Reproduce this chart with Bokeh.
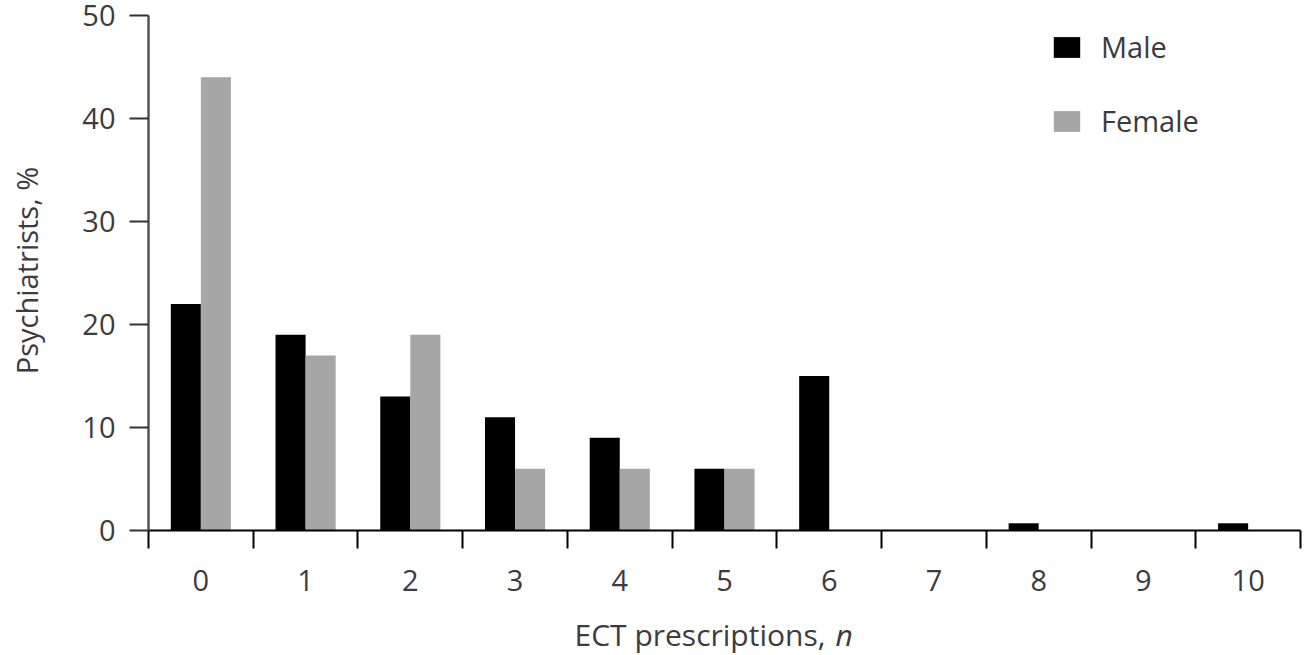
import math
from bokeh.plotting import figure
from bokeh.models import Range1d, FixedTicker, Legend, LegendItem, Label, ColumnDataSource
from bokeh.transform import dodge
from bokeh.embed import file_html
from bokeh.resources import INLINE

categories = list(range(11))
male = [22, 19, 13, 11, 9, 6, 15, 0, 0.7, 0, 0.7]
female = [44, 17, 19, 6, 6, 6, 0, 0, 0, 0, 0]
tick_labels = [str(c) for c in categories]
y_ticks = [0, 10, 20, 30, 40, 50]

FONT = "Open Sans"
TXT = "#3c3c3c"
FS = "29px"

# layout (canvas pixels)
W, H = 1312, 655
AX_L, AX_R = 148, 1300      # x-axis pixel extent for -0.5 .. 10.5
AX_T, AX_B = 15, 530        # y-axis pixel extent for 50 .. 0
x_lo, x_hi = -0.5, 10.5
y_lo, y_hi = 0, 50
ppx = (AX_R - AX_L) / (x_hi - x_lo)
ppy = (AX_B - AX_T) / (y_hi - y_lo)
xr = Range1d(x_lo - AX_L / ppx, x_hi + (W - AX_R) / ppx)
yr = Range1d(y_lo - (H - AX_B) / ppy, y_hi + AX_T / ppy)

p = figure(width=W, height=H, x_range=xr, y_range=yr,
           output_backend="svg", toolbar_location=None,
           min_border=0, min_border_left=0, min_border_right=0,
           min_border_top=0, min_border_bottom=0)
p.grid.visible = False
p.outline_line_color = None
p.background_fill_color = "white"

source = ColumnDataSource(dict(x=categories, male=male, female=female))
r1 = p.vbar(x=dodge("x", -0.1435, range=p.x_range), top="male", width=0.287,
            source=source, fill_color="black", line_color=None)
r2 = p.vbar(x=dodge("x", 0.1435, range=p.x_range), top="female", width=0.287,
            source=source, fill_color="#a6a6a6", line_color=None)

# x axis
xa = p.xaxis[0]
xa.fixed_location = 0
xa.bounds = (x_lo, x_hi)
xa.ticker = FixedTicker(ticks=categories, minor_ticks=[c - 0.5 for c in categories + [11]])
xa.major_label_overrides = {c: l for c, l in zip(categories, tick_labels)}
xa.major_tick_out = 0
xa.major_tick_in = 0
xa.minor_tick_out = 18
xa.minor_tick_in = 0
xa.minor_tick_line_color = "black"
xa.minor_tick_line_width = 2
xa.axis_line_color = "black"
xa.axis_line_width = 2
xa.major_label_text_font = FONT
xa.major_label_text_font_size = FS
xa.major_label_text_color = TXT
xa.major_label_standoff = 21

# y axis
ya = p.yaxis[0]
ya.fixed_location = x_lo
ya.bounds = (y_lo, y_hi)
ya.ticker = FixedTicker(ticks=y_ticks, minor_ticks=[])
ya.major_tick_out = 19
ya.major_tick_in = 0
ya.major_tick_line_color = "#333333"
ya.major_tick_line_width = 2
ya.axis_line_color = "#555555"
ya.axis_line_width = 2.5
ya.major_label_text_font = FONT
ya.major_label_text_font_size = FS
ya.major_label_text_color = TXT
ya.major_label_standoff = 14

# axis titles
ylab = Label(x=26, y=270, x_units="canvas", y_units="canvas",
             text="Psychiatrists, %", angle=math.pi / 2,
             text_align="center", text_baseline="middle",
             text_font=FONT, text_font_size="29px", text_color=TXT)
lab1 = Label(x=825, y=634, x_units="canvas", y_units="canvas",
             text="ECT prescriptions,", text_align="right",
             text_baseline="alphabetic", text_font=FONT, text_font_size="30px",
             text_color=TXT)
lab2 = Label(x=835, y=634, x_units="canvas", y_units="canvas",
             text="n", text_align="left",
             text_baseline="alphabetic", text_font=FONT, text_font_size="30px",
             text_font_style="italic", text_color=TXT)
p.add_layout(ylab)
p.add_layout(lab1)
p.add_layout(lab2)

legend = Legend(items=[LegendItem(label="Male", renderers=[r1]),
                       LegendItem(label="Female", renderers=[r2])],
                location=(AX_L + 902, (H - AX_B) + 390))
legend.glyph_width = 33
legend.glyph_height = 26
legend.label_standoff = 18
legend.label_text_font = FONT
legend.label_text_font_size = FS
legend.label_text_color = TXT
legend.label_height = 22
legend.spacing = 35
legend.padding = 0
legend.margin = 0
legend.border_line_color = None
legend.background_fill_alpha = 0
p.add_layout(legend)

open("out.html", "w").write(file_html(p, INLINE))
